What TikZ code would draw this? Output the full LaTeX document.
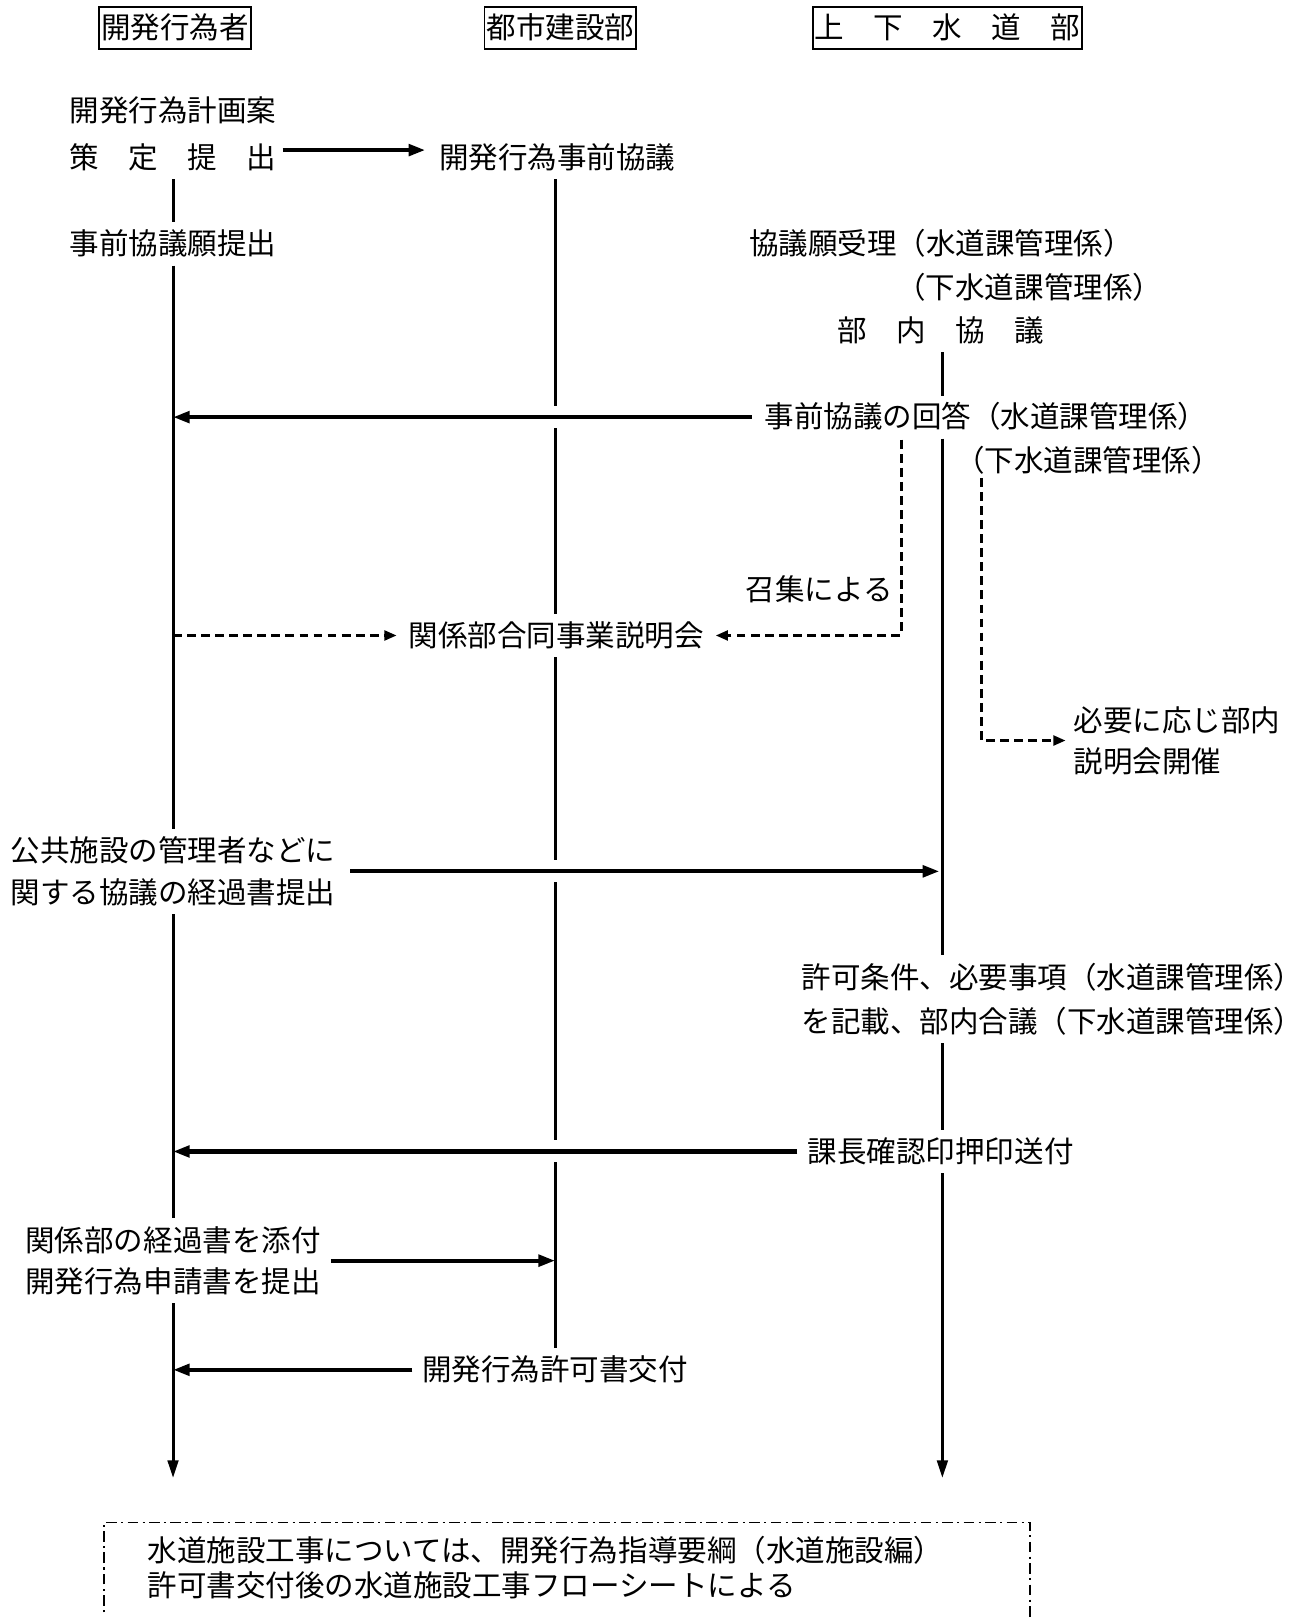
\documentclass[tikz,border=0pt]{standalone}
\usepackage{fontspec}
\usepackage{tikz}
\usetikzlibrary{arrows.meta}
\setmainfont{Noto Sans CJK JP}

\begin{document}
\begin{tikzpicture}[x=0.0206cm, y=-0.0206cm,
        every node/.style={font=\fontsize{16.8pt}{23.5pt}\selectfont, inner sep=0pt},
        txt/.style={text height=0.48cm, text depth=0.05cm},
        head/.style={txt, draw, line width=1.1pt, inner xsep=0.04cm, minimum height=0.84cm},
        life/.style={line width=1.7pt, shorten <=0.16cm, shorten >=0.16cm},
        flow/.style={line width=2.3pt, -{Stealth[length=9.5pt, width=6.5pt, inset=0pt]}},
        opt/.style={line width=1.7pt, dash pattern=on 5pt off 3pt, -{Stealth[length=7pt, width=5.5pt, inset=0pt]}},
        frame/.style={line width=0.8pt, dash pattern=on 6pt off 2.5pt on 1.2pt off 2.5pt}]
        \useasboundingbox (0,0) rectangle (1263,1570);
        \coordinate (xL) at (168,0);
        \coordinate (xM) at (539,0);
        \coordinate (xR) at (915,0);
        \coordinate (callx) at (875,0);
        \coordinate (needx) at (953,0);
        \coordinate (endL) at (168,1435);
        \coordinate (endR) at (915,1435);

        \node[head] (hdev) at (170,27) {開発行為者};
        \node[head] (hcity) at (544,27) {都市建設部};
        \node[head] (hwater) at (920,27) {上　下　水　道　部};

        \node[txt] (plan) at (168,108) {開発行為計画案};
        \node[txt] (submit) at (168,153) {策　定　提　出};
        \node[txt] (req) at (168,237) {事前協議願提出};
        \node[align=left] (pub) at (168,846) {公共施設の管理者などに\\関する協議の経過書提出};
        \node[align=left] (app) at (168,1224) {関係部の経過書を添付\\開発行為申請書を提出};

        \node[txt] (pre) at (541,153) {開発行為事前協議};
        \node[txt] (joint) at (540,617) {関係部合同事業説明会};
        \node[txt] (permit) at (539,1330) {開発行為許可書交付};

        \node[txt, anchor=west] (recv) at (727,237) {協議願受理（水道課管理係）};
        \node[txt, anchor=west] (recv2) at (870,279) {（下水道課管理係）};
        \node[txt] (bunai) at (913,321) {部　内　協　議};
        \node[txt, anchor=west] (ans) at (742,405) {事前協議の回答（水道課管理係）};
        \node[txt, anchor=west] (ans2) at (927,447) {（下水道課管理係）};
        \node[txt, anchor=east] (call) at (867,573) {召集による};
        \node[align=left, anchor=west] (need) at (1042,719) {必要に応じ部内\\説明会開催};
        \node[align=left, anchor=west] (cond) at (778,970) {許可条件、必要事項（水道課管理係）\\[0.05cm]を記載、部内合議（下水道課管理係）};
        \node[txt, anchor=west] (chief) at (784,1118) {課長確認印押印送付};

        \node[align=left, anchor=west, font=\fontsize{16.8pt}{20.4pt}\selectfont] (note) at (143,1522) {水道施設工事については、開発行為指導要綱（水道施設編）\\許可書交付後の水道施設工事フローシートによる};
        \draw[frame] (101,1580) |- (1000,1478) -- (1000,1580);

        \draw[life] (submit.south -| xL) -- (req.north -| xL);
        \draw[life] (req.south -| xL) -- (pub.north -| xL);
        \draw[life] (pub.south -| xL) -- (app.north -| xL);
        \draw[life, -{Stealth[length=10pt, width=6pt, inset=0pt]}, shorten >=0pt] (app.south -| xL) -- (endL);

        \draw[life, shorten >=0.22cm] (pre.south -| xM) -- (ans.west -| xM);
        \draw[life, shorten <=0.22cm] (ans.west -| xM) -- (joint.north -| xM);
        \draw[life, shorten >=0.22cm] (joint.south -| xM) -- (pub.east -| xM);
        \draw[life, shorten <=0.22cm, shorten >=0.22cm] (pub.east -| xM) -- (chief.west -| xM);
        \draw[life, shorten <=0.22cm] (chief.west -| xM) -- (permit.north -| xM);

        \draw[life] (bunai.south -| xR) -- (ans.north -| xR);
        \draw[life] (ans.south -| xR) -- (cond.north -| xR);
        \draw[life] (cond.south -| xR) -- (chief.north -| xR);
        \draw[life, -{Stealth[length=10pt, width=6pt, inset=0pt]}, shorten >=0pt] (chief.south -| xR) -- (endR);

        \draw[flow, shorten <=0.12cm, shorten >=0.27cm] ([yshift=0.15cm]submit.east) -- ([yshift=0.15cm]pre.west);
        \draw[flow, shorten <=0.25cm] (ans.west) -- (ans.west -| xL);
        \draw[flow, shorten <=0.29cm, shorten >=0.06cm] (pub.east) -- (pub.east -| xR);
        \draw[flow, shorten <=0.2cm] (chief.west) -- (chief.west -| xL);
        \draw[flow, shorten <=0.2cm] (app.east) -- (app.east -| xM);
        \draw[flow, shorten <=0.19cm] (permit.west) -- (permit.west -| xL);

        \draw[opt, shorten <=0.18cm, shorten >=0.23cm] (ans.south -| callx) |- (joint.east);
        \draw[opt, shorten >=0.23cm] (joint.west -| xL) -- (joint.west);
        \draw[opt, shorten <=0.08cm, shorten >=0.15cm] (ans2.south -| needx) |- (need.west);
    \end{tikzpicture}
\end{document}
